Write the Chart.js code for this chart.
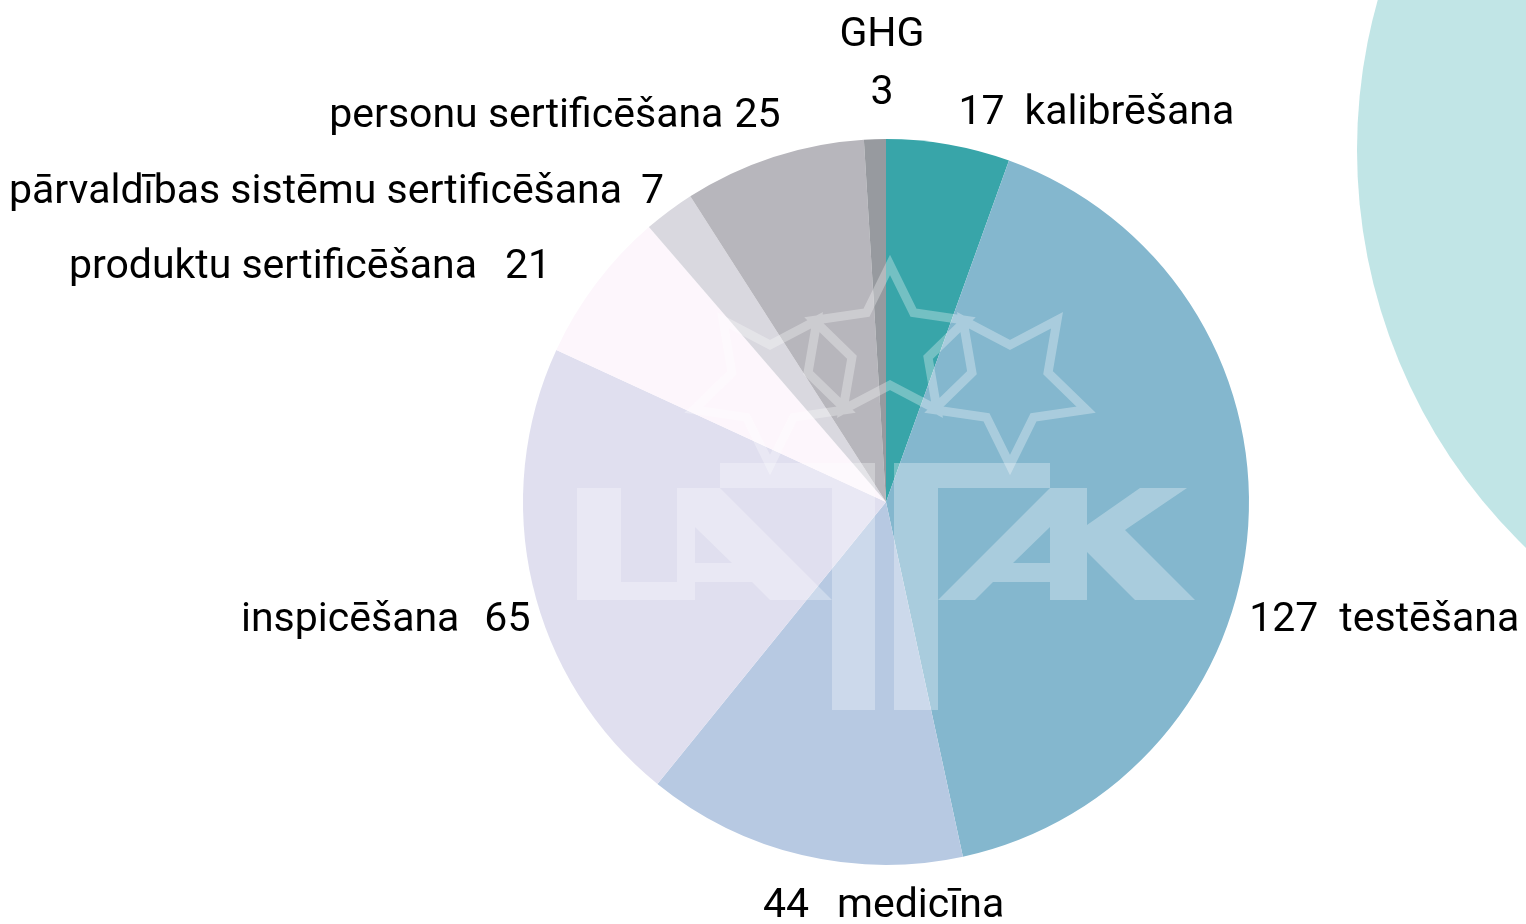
<!DOCTYPE html>
<html>
<head>
<meta charset="utf-8">
<script src="https://cdn.jsdelivr.net/npm/chart.js@4"></script>
<style>
  html, body { margin: 0; padding: 0; background: #ffffff; }
  #wrap { position: relative; width: 1526px; height: 924px; }
</style>
</head>
<body>
<div id="wrap"><canvas id="pieChart"></canvas></div>
<script>
// data
const categories = ['kalibrēšana', 'testēšana', 'medicīna', 'inspicēšana',
    'produktu sertificēšana', 'pārvaldības sistēmu sertificēšana', 'personu sertificēšana', 'GHG'];
const values = [17, 127, 44, 65, 21, 7, 25, 3];
const sliceColors = ['#38a5a9', '#84b7ce', '#b7c9e2', '#e0dfef', '#fdf6fc', '#d9d8df', '#b7b6bc', '#979a9f'];

// label placement, offsets from the outer middle of each slice
const labelLayout = [
    { dx: 10, dy: -20, align: 'left', order: 'vn', gap: 20 },
    { dx: 1, dy: 105, align: 'left', order: 'vn', gap: 21 },
    { dx: -39, dy: 62, align: 'left', order: 'vn', gap: 28 },
    { dx: -2, dy: 47, align: 'right', order: 'nv', gap: 25 },
    { dx: -45, dy: -6, align: 'right', order: 'nv', gap: 28 },
    { dx: -5, dy: -8, align: 'right', order: 'nv', gap: 19 },
    { dx: 7, dy: -30, align: 'right', order: 'nv', gap: 11 },
    { dx: 7, dy: -93, align: 'center', order: 'stack', gap: 58 }
];
const labelFont = '41px Roboto';

// background circle in the top right corner
const bgCircle = {
    id: 'bgCircle',
    beforeDraw(chart) {
        const ctx = chart.ctx;
        ctx.save();
        ctx.fillStyle = '#c1e5e6';
        ctx.beginPath();
        ctx.arc(1910, 150, 553, 0, Math.PI * 2);
        ctx.fill();
        ctx.restore();
    }
};

// faint logo over the pie
const logoWatermark = {
    id: 'logoWatermark',
    afterDatasetsDraw(chart) {
        const arc = chart.getDatasetMeta(0).data[0];
        const cx = arc.x, cy = arc.y;
        const ctx = chart.ctx;
        const polys = [
            [[-309, -14], [-265, -14], [-265, 80], [-209, 80], [-209, 98], [-309, 98]],
            [[-209, -14], [-166, -14], [-54, 98], [-116, 98], [-134, 80], [-191, 80], [-191, 98], [-209, 98]],
            [[-191, 25], [-154, 61], [-191, 61]],
            [[-166, -39], [-11, -39], [-11, 208], [-54, 208], [-54, -14], [-166, -14]],
            [[8, -39], [164, -39], [164, -14], [52, -14], [52, 208], [8, 208]],
            [[164, -14], [201, -14], [201, 98], [164, 98], [164, 80], [107, 80], [89, 98], [52, 98]],
            [[164, 25], [164, 61], [127, 61]],
            [[201, 23], [254, -14], [301, -14], [239, 28], [309, 98], [249, 98], [201, 50]]
        ];
        ctx.save();
        ctx.fillStyle = 'rgba(255,255,255,0.3)';
        ctx.strokeStyle = 'rgba(255,255,255,0.3)';
        ctx.beginPath();
        polys.forEach(p => {
            ctx.moveTo(cx + p[0][0], cy + p[0][1]);
            for (let i = 1; i < p.length; i++) ctx.lineTo(cx + p[i][0], cy + p[i][1]);
            ctx.closePath();
        });
        ctx.fill('evenodd');

        const stars = [[4, -157, -90], [-116, -117, 90], [124, -117, 90]];
        ctx.beginPath();
        stars.forEach(s => {
            for (let i = 0; i < 10; i++) {
                const r = i % 2 === 0 ? 80 : 40;
                const a = (s[2] + i * 36) * Math.PI / 180;
                const x = cx + s[0] + r * Math.cos(a);
                const y = cy + s[1] + r * Math.sin(a);
                if (i === 0) ctx.moveTo(x, y); else ctx.lineTo(x, y);
            }
            ctx.closePath();
        });
        ctx.lineWidth = 9;
        ctx.lineJoin = 'miter';
        ctx.stroke();
        ctx.restore();
    }
};

// outside labels
const outsideLabels = {
    id: 'outsideLabels',
    afterDraw(chart) {
        const ctx = chart.ctx;
        const meta = chart.getDatasetMeta(0);
        ctx.save();
        ctx.font = labelFont;
        ctx.fillStyle = '#000000';
        ctx.textBaseline = 'alphabetic';
        meta.data.forEach((el, i) => {
            const mid = (el.startAngle + el.endAngle) / 2;
            const ax = el.x + Math.cos(mid) * el.outerRadius;
            const ay = el.y + Math.sin(mid) * el.outerRadius;
            const lay = labelLayout[i];
            const x = ax + lay.dx, y = ay + lay.dy;
            const name = categories[i], val = String(values[i]);
            if (lay.order === 'stack') {
                ctx.textAlign = 'center';
                ctx.fillText(name, x, y);
                ctx.fillText(val, x, y + lay.gap);
            } else if (lay.order === 'vn') {
                ctx.textAlign = 'left';
                ctx.fillText(val, x, y);
                ctx.fillText(name, x + ctx.measureText(val).width + lay.gap, y);
            } else {
                ctx.textAlign = 'right';
                ctx.fillText(val, x, y);
                ctx.fillText(name, x - ctx.measureText(val).width - lay.gap, y);
            }
        });
        ctx.restore();
    }
};

const ctx = document.getElementById('pieChart').getContext('2d');
const pieChart = new Chart(ctx, {
    type: 'pie',
    data: {
        labels: categories,
        datasets: [{
            data: values,
            backgroundColor: sliceColors,
            borderWidth: 0
        }]
    },
    options: {
        responsive: true,
        maintainAspectRatio: false,
        animation: false,
        layout: {
            padding: { top: 139, bottom: 59, left: 523, right: 277 }
        },
        plugins: {
            legend: { display: false },
            tooltip: { enabled: false }
        }
    },
    plugins: [bgCircle, logoWatermark, outsideLabels]
});
</script>
</body>
</html>
